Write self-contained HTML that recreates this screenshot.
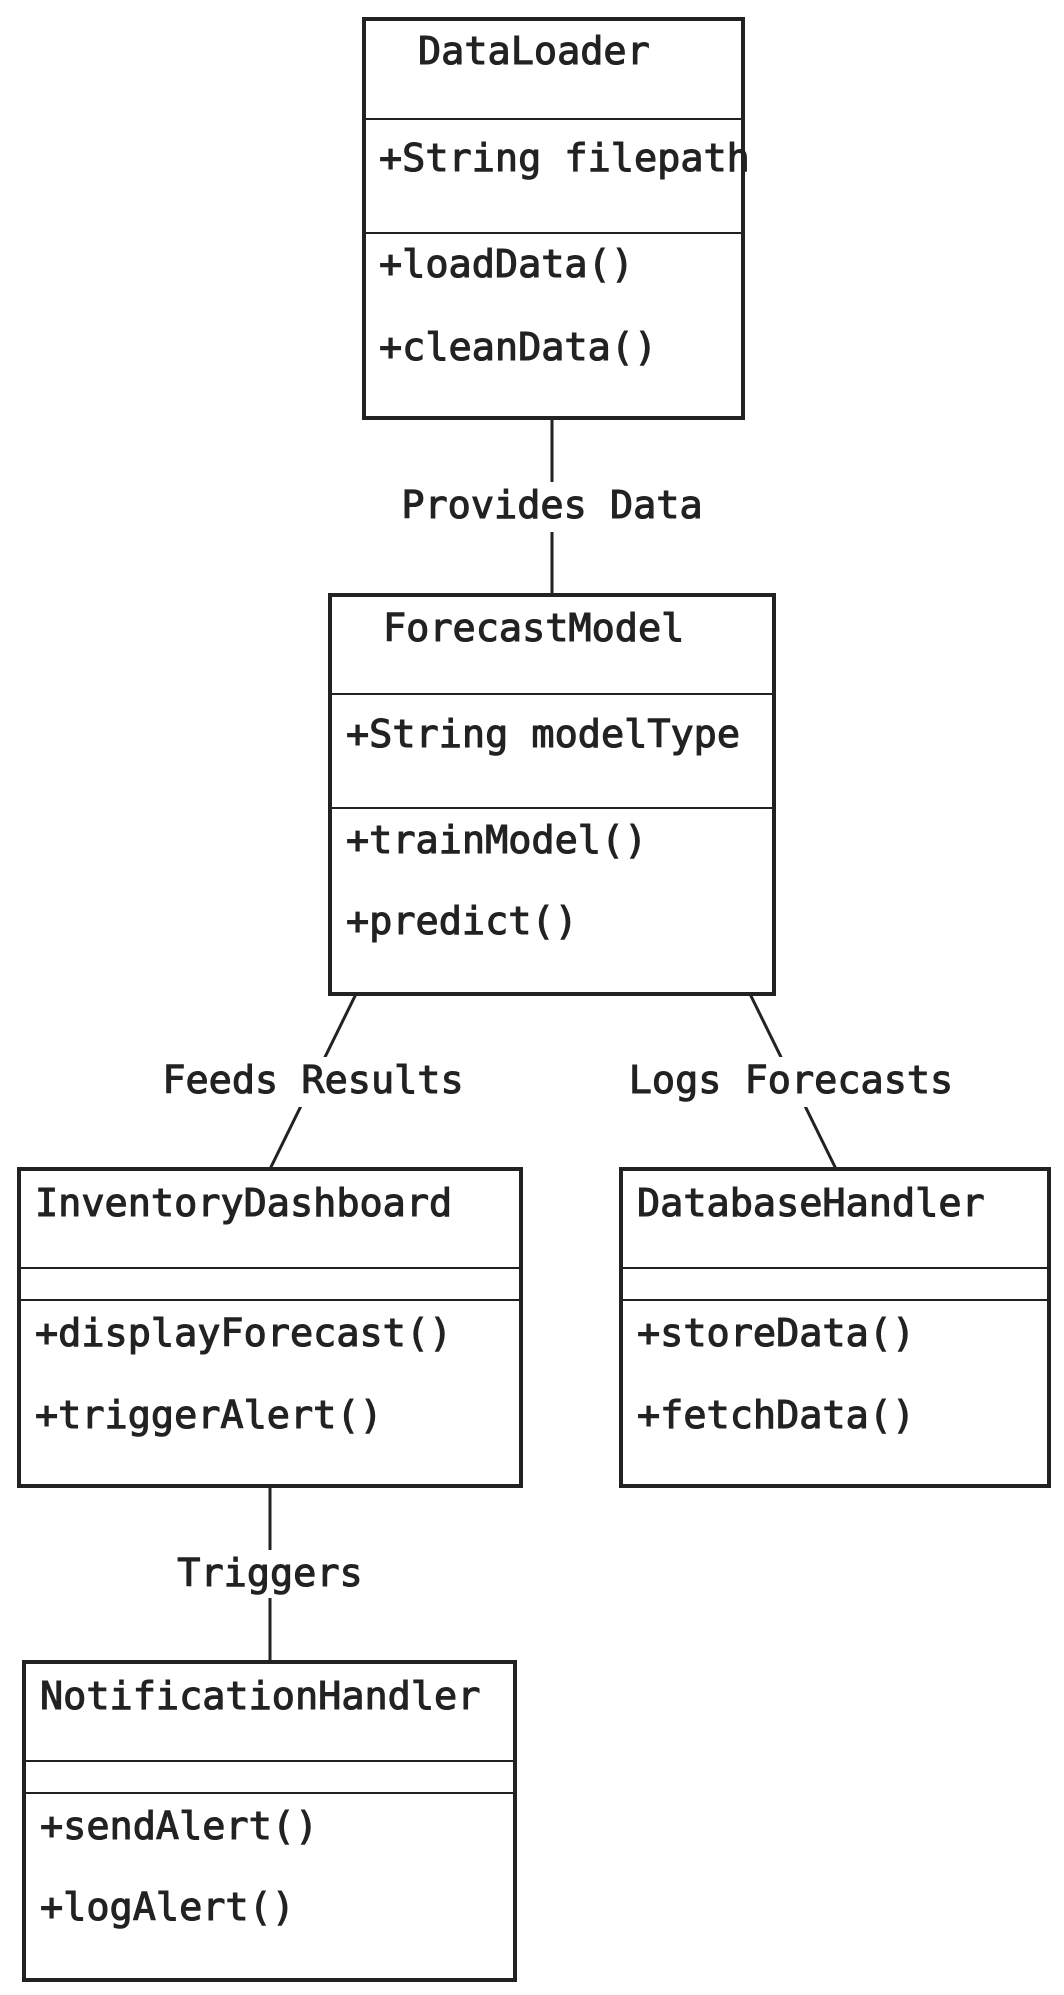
<!DOCTYPE html>
<html><head><meta charset="utf-8"><style>
html,body{margin:0;padding:0;background:#fff;}
svg text{font-family:"DejaVu Sans Mono","Liberation Mono",monospace;font-size:38.5px;fill:#222;stroke:#222;stroke-width:1.1px;}
</style></head><body>
<svg width="1064" height="1990" viewBox="0 0 1064 1990" xmlns="http://www.w3.org/2000/svg">
<g stroke="#222" fill="none">
<line x1="552" y1="418" x2="552" y2="595" stroke-width="3"/>
<line x1="356" y1="994" x2="270" y2="1169" stroke-width="3"/>
<line x1="750" y1="994" x2="836" y2="1169" stroke-width="3"/>
<line x1="270" y1="1486" x2="270" y2="1662" stroke-width="3"/>
</g>
<g fill="#fff" stroke="none">
<rect x="395" y="482" width="314" height="50"/>
<rect x="157" y="1057" width="312" height="50"/>
<rect x="625" y="1057" width="332" height="50"/>
<rect x="174" y="1550" width="192" height="48"/>
</g>
<g stroke="#222" fill="none">
<rect x="364" y="19" width="379" height="399" stroke-width="4"/>
<line x1="364" y1="119" x2="743" y2="119" stroke-width="2"/>
<line x1="364" y1="233" x2="743" y2="233" stroke-width="2"/>
<rect x="330" y="595" width="444" height="399" stroke-width="4"/>
<line x1="330" y1="694" x2="774" y2="694" stroke-width="2"/>
<line x1="330" y1="808" x2="774" y2="808" stroke-width="2"/>
<rect x="19" y="1169" width="502" height="317" stroke-width="4"/>
<line x1="19" y1="1268" x2="521" y2="1268" stroke-width="2"/>
<line x1="19" y1="1300" x2="521" y2="1300" stroke-width="2"/>
<rect x="621" y="1169" width="428" height="317" stroke-width="4"/>
<line x1="621" y1="1268" x2="1049" y2="1268" stroke-width="2"/>
<line x1="621" y1="1300" x2="1049" y2="1300" stroke-width="2"/>
<rect x="24" y="1662" width="491" height="318" stroke-width="4"/>
<line x1="24" y1="1761" x2="515" y2="1761" stroke-width="2"/>
<line x1="24" y1="1793" x2="515" y2="1793" stroke-width="2"/>
</g>
<text x="418" y="64">DataLoader</text>
<text x="379" y="171">+String filepath</text>
<text x="379" y="277">+loadData()</text>
<text x="379" y="360">+cleanData()</text>
<text x="552" y="518" text-anchor="middle">Provides Data</text>
<text x="383" y="641">ForecastModel</text>
<text x="346" y="747">+String modelType</text>
<text x="346" y="853">+trainModel()</text>
<text x="346" y="934">+predict()</text>
<text x="313" y="1093" text-anchor="middle">Feeds Results</text>
<text x="791" y="1093" text-anchor="middle">Logs Forecasts</text>
<text x="35" y="1216">InventoryDashboard</text>
<text x="35" y="1346">+displayForecast()</text>
<text x="35" y="1428">+triggerAlert()</text>
<text x="637" y="1216">DatabaseHandler</text>
<text x="637" y="1346">+storeData()</text>
<text x="637" y="1428">+fetchData()</text>
<text x="270" y="1586" text-anchor="middle">Triggers</text>
<text x="40" y="1709">NotificationHandler</text>
<text x="40" y="1839">+sendAlert()</text>
<text x="40" y="1920">+logAlert()</text>
</svg>
</body></html>
